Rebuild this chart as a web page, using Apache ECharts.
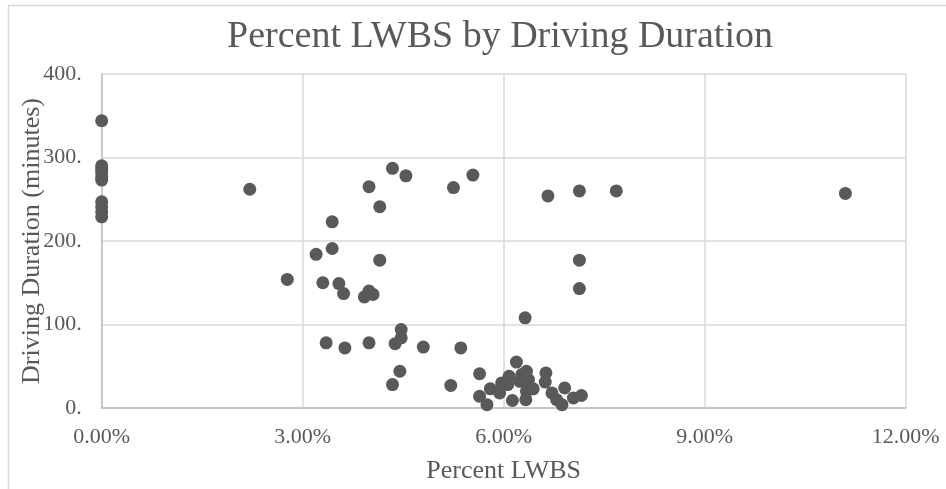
<!DOCTYPE html>
<html>
<head>
<meta charset="utf-8">
<script src="https://cdn.jsdelivr.net/npm/echarts@6/dist/echarts.min.js"></script>
<style>
  html, body { margin: 0; padding: 0; background: #fff; }
  #chart { width: 946px; height: 489px; }
</style>
</head>
<body>
<div id="chart"></div>
<script>
// percent LWBS (in %) and driving duration (minutes)
const percentLwbs = [
  0, 0, 0, 0, 0, 0, 0, 0, 0, 0,
  2.21, 2.77, 3.20, 3.44, 3.44, 3.30, 3.54, 3.61, 3.92, 3.99, 4.05,
  3.35, 3.63, 3.99, 4.38, 4.47, 4.47, 4.80, 5.36, 4.45, 4.34, 5.21,
  3.99, 4.15, 4.15, 4.34, 4.54, 5.25, 5.54, 6.66, 7.13, 7.68, 11.10,
  7.13, 7.13, 6.32,
  5.64, 5.64, 5.75, 5.80, 5.93, 5.97, 6.08, 6.19, 6.13, 6.27, 6.34, 6.37,
  6.33, 6.34, 6.44, 6.63, 6.62, 6.72, 6.79, 6.87, 6.91, 7.04, 7.16, 6.24,
  6.06, 5.94
]
const drivingMinutes = [
  344, 290, 286, 282, 277, 273, 247, 241, 235, 229,
  262, 154, 184, 191, 223, 150, 149, 137, 133, 140, 136,
  78, 72, 78, 77, 84, 94, 73, 72, 44, 28, 27,
  265, 241, 177, 287, 278, 264, 279, 254, 260, 260, 257,
  177, 143, 108,
  41, 14, 4, 23, 20, 30, 38, 55, 9, 40, 44, 34,
  10, 20, 23, 42, 31, 18, 10, 4, 24, 12, 15, 32,
  28, 18
]
const xTicks = [0, 3, 6, 9, 12]
const yTicks = [0, 100, 200, 300, 400]

const textColor = '#595959'
const serif = '"Liberation Serif", "Times New Roman", serif'

const points = percentLwbs.map((p, i) => [p, drivingMinutes[i]])

const chart = echarts.init(document.getElementById('chart'), null, { renderer: 'canvas' })

chart.setOption({
  backgroundColor: '#fff',
  animation: false,
  title: {
    text: 'Percent LWBS by Driving Duration',
    left: 222,
    top: 13,
    textStyle: { fontFamily: serif, fontSize: 38, fontWeight: 'normal', color: textColor }
  },
  // chart frame (only left and top edges visible in the picture)
  graphic: [{
    type: 'rect',
    shape: { x: 8.5, y: 5.5, width: 1000, height: 1000 },
    style: { fill: 'none', stroke: '#d9d9d9', lineWidth: 1.5 },
    silent: true
  }],
  grid: { left: 101.7, right: 40.3, top: 74, bottom: 80.7 },
  xAxis: {
    type: 'value',
    min: xTicks[0],
    max: xTicks[xTicks.length - 1],
    interval: 3,
    name: 'Percent LWBS',
    nameLocation: 'middle',
    nameGap: 50,
    nameMoveOverlap: false,
    nameTextStyle: { fontFamily: serif, fontSize: 26, color: textColor },
    axisLine: { show: true, lineStyle: { color: '#bfbfbf', width: 1.5 } },
    axisTick: { show: false },
    axisLabel: {
      margin: 18,
      fontFamily: serif, fontSize: 22, color: textColor,
      formatter: v => v.toFixed(2) + '%'
    },
    splitLine: { show: true, lineStyle: { color: '#d9d9d9', width: 1.5 } }
  },
  yAxis: {
    type: 'value',
    min: yTicks[0],
    max: yTicks[yTicks.length - 1],
    interval: 100,
    name: 'Driving Duration (minutes)',
    nameLocation: 'middle',
    nameRotate: 90,
    nameGap: 57,
    nameMoveOverlap: false,
    nameTextStyle: { fontFamily: serif, fontSize: 26, color: textColor },
    axisLine: { show: true, lineStyle: { color: '#bfbfbf', width: 1.5 } },
    axisTick: { show: false },
    axisLabel: {
      margin: 20,
      fontFamily: serif, fontSize: 22, color: textColor,
      formatter: v => v + '.'
    },
    splitLine: { show: true, lineStyle: { color: '#d9d9d9', width: 1.5 } }
  },
  series: [{
    type: 'scatter',
    data: points,
    symbol: 'circle',
    symbolSize: 13,
    itemStyle: { color: '#595959', opacity: 1 }
  }]
})
</script>
</body>
</html>
